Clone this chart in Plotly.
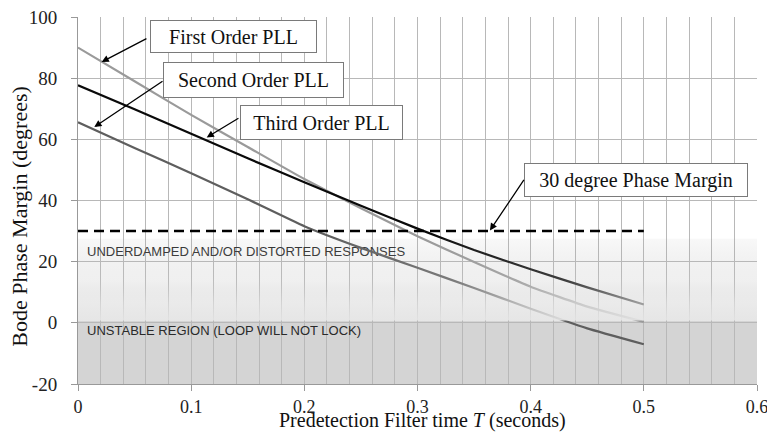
import plotly.graph_objects as go

# ---------------- data ----------------
T = [0.0, 0.05, 0.10, 0.15, 0.20, 0.25, 0.30, 0.35, 0.40, 0.45, 0.50]
first_order = [90.0, 79.0, 68.0, 57.5, 47.0, 37.5, 28.3, 19.9, 11.8, 5.3, 0.3]
second_order = [65.6, 57.2, 48.9, 40.4, 31.6, 24.5, 18.0, 11.4, 4.6, -1.8, -7.0]
third_order = [77.7, 69.8, 61.8, 53.8, 46.0, 38.3, 30.8, 23.8, 17.5, 11.6, 6.0]

margin_T = [0.0, 0.5]
margin_deg = [30, 30]

# shaded regions (x extent, y bounds)
region_x = [0.0, 0.6]
underdamped_y = [0.8, 27.5]
unstable_y = [-20, 0.8]

x_ticks = [0, 0.1, 0.2, 0.3, 0.4, 0.5, 0.6]
y_ticks = [-20, 0, 20, 40, 60, 80, 100]

labels = ["First Order PLL", "Second Order PLL", "Third Order PLL", "30 degree Phase Margin"]
label_center = [(0.137, 93.5), (0.155, 79.5), (0.215, 65.6), (0.4929, 46.6)]
label_size = [(165, 31), (179, 34), (161, 33), (222, 32)]
arrow_tail = [(0.0618, 93.2), (0.076, 79.3), (0.1431, 67.2), (0.3949, 47.2)]
arrow_tip = [(0.0209, 85.3), (0.0144, 64.0), (0.1137, 60.6), (0.364, 30.2)]

region_labels = ["UNDERDAMPED AND/OR DISTORTED RESPONSES", "UNSTABLE REGION (LOOP WILL NOT LOCK)"]
region_label_pos = [(0.008, 23.0), (0.008, -2.9)]

SERIF = "Liberation Serif"
SANS = "Liberation Sans"

fig = go.Figure()

# region captions (under the curves)
fig.add_trace(go.Scatter(
    x=[p[0] for p in region_label_pos], y=[p[1] for p in region_label_pos],
    mode="text", text=region_labels, textposition="middle right",
    textfont=dict(family=SANS, size=13, color="#2a2a2a"),
    hoverinfo="skip", showlegend=False))

# curves
LS = dict(width=2.2, shape="spline", smoothing=0.4)
fig.add_trace(go.Scatter(x=T, y=second_order, mode="lines", line=dict(color="#5e5e5e", **LS),
                         name="Second Order PLL", showlegend=False))
fig.add_trace(go.Scatter(x=T, y=first_order, mode="lines", line=dict(color="#9a9a9a", **LS),
                         name="First Order PLL", showlegend=False))
fig.add_trace(go.Scatter(x=T, y=third_order, mode="lines", line=dict(color="#0a0a0a", **LS),
                         name="Third Order PLL", showlegend=False))
fig.add_trace(go.Scatter(x=margin_T, y=margin_deg, mode="lines", line=dict(color="#000000", width=2.5, dash="10px,6px"),
                         name="30 degree", showlegend=False))

# semi-transparent gradient overlay for the underdamped region
fig.add_trace(go.Scatter(
    x=[region_x[0], region_x[1], region_x[1], region_x[0], region_x[0]],
    y=[underdamped_y[0], underdamped_y[0], underdamped_y[1], underdamped_y[1], underdamped_y[0]],
    mode="lines", line=dict(width=0), fill="toself",
    fillgradient=dict(type="vertical", start=underdamped_y[0], stop=underdamped_y[1],
                      colorscale=[[0.0, "rgba(228,228,228,0.93)"],
                                  [0.22, "rgba(224,224,224,0.66)"],
                                  [0.48, "rgba(200,200,200,0.28)"],
                                  [1.0, "rgba(160,160,160,0.07)"]]),
    hoverinfo="skip", showlegend=False))

# unstable region
fig.add_shape(type="rect", xref="x", yref="y", x0=region_x[0], x1=region_x[1],
              y0=unstable_y[0], y1=unstable_y[1], fillcolor="#d4d4d4", line=dict(width=0), layer="below")

# text boxes
for txt, c, s in zip(labels, label_center, label_size):
    fig.add_annotation(x=c[0], y=c[1], xref="x", yref="y", text=txt, showarrow=False,
                       font=dict(family=SERIF, size=20, color="#111111"),
                       bgcolor="white", bordercolor="#7a7a7a", borderwidth=1, borderpad=0,
                       width=s[0], height=s[1], align="center", valign="middle")

# arrows
for tail, tip in zip(arrow_tail, arrow_tip):
    fig.add_annotation(x=tip[0], y=tip[1], ax=tail[0], ay=tail[1], xref="x", yref="y", axref="x", ayref="y",
                       text="", showarrow=True, arrowhead=2, arrowsize=1.1, arrowwidth=1.3, arrowcolor="#000000")

# axis titles
fig.add_annotation(x=0.304, y=-0.1, xref="x", yref="paper", text="Predetection Filter time <i>T</i> (seconds)",
                   showarrow=False, font=dict(family=SERIF, size=20, color="#111111"), yanchor="middle")
fig.add_annotation(x=-0.0854, y=0.456, xref="paper", yref="paper", text="Bode Phase Margin (degrees)",
                   textangle=-90, showarrow=False, font=dict(family=SERIF, size=22, color="#111111"),
                   xanchor="center", yanchor="middle")

GRID = "#b8b8b8"
fig.update_xaxes(range=[0, 0.6], tickvals=x_ticks, ticktext=[f"{v:g}" for v in x_ticks],
                 showgrid=True, gridcolor=GRID, gridwidth=1,
                 minor=dict(dtick=0.02, showgrid=True, gridcolor=GRID, gridwidth=1),
                 ticks="outside", ticklen=6, tickcolor="#999999", tickwidth=1,
                 showline=True, linecolor="#999999", linewidth=1, zeroline=False,
                 tickfont=dict(family=SERIF, size=18, color="#222222"), ticklabelstandoff=0,
                 ticklabeloverflow="allow")
fig.update_yaxes(range=[-20, 100], tickvals=y_ticks, ticktext=[str(v) for v in y_ticks],
                 showgrid=True, gridcolor=GRID, gridwidth=1,
                 ticks="outside", ticklen=6, tickcolor="#999999", tickwidth=1,
                 showline=True, linecolor="#999999", linewidth=1, zeroline=False,
                 tickfont=dict(family=SERIF, size=19, color="#222222"), ticklabelstandoff=10,
                 ticklabeloverflow="allow")

# the page adds an 8px body margin; the figure is shrunk so the plot area lands where the reference has it
fig.update_layout(width=767, height=425, autosize=False,
                  margin=dict(l=70, r=18, t=9, b=49, autoexpand=False),
                  paper_bgcolor="white", plot_bgcolor="white", showlegend=False)

fig.write_html("out.html")
